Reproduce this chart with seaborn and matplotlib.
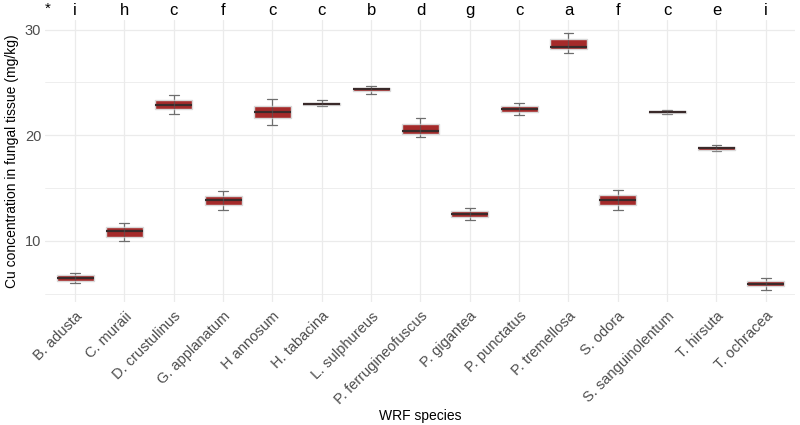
import numpy as np
import pandas as pd
import matplotlib
matplotlib.use("Agg")
import matplotlib.pyplot as plt
import seaborn as sns

species = ["B. adusta", "C. muraii", "D. crustulinus", "G. applanatum", "H annosum",
           "H. tabacina", "L. sulphureus", "P. ferrugineofuscus", "P. gigantea",
           "P. punctatus", "P. tremellosa", "S. odora", "S. sanguinolentum",
           "T. hirsuta", "T. ochracea"]
letters = ["i", "h", "c", "f", "c", "c", "b", "d", "g", "c", "a", "f", "c", "e", "i"]
# five-number summaries: min, Q1, median, Q3, max
lo  = [6.0, 10.0, 22.0, 12.95, 21.0, 22.75, 23.95, 19.8, 12.0, 21.95, 27.8, 12.95, 22.0, 18.5, 5.4]
q1  = [6.2, 10.4, 22.45, 13.4, 21.6, 22.85, 24.2, 20.15, 12.25, 22.25, 28.15, 13.4, 22.08, 18.63, 5.7]
med = [6.5, 10.9, 22.85, 13.85, 22.2, 23.0, 24.35, 20.4, 12.55, 22.5, 28.35, 13.9, 22.17, 18.76, 5.95]
q3  = [6.8, 11.3, 23.3, 14.3, 22.8, 23.1, 24.5, 21.1, 12.85, 22.8, 29.1, 14.35, 22.26, 18.9, 6.25]
hi  = [7.0, 11.7, 23.8, 14.7, 23.4, 23.3, 24.7, 21.65, 13.1, 23.1, 29.7, 14.8, 22.35, 19.05, 6.5]

rows = []
for i, s in enumerate(species):
    for v in (lo[i], q1[i], med[i], q3[i], hi[i]):
        rows.append({"species": s, "cu": v})
df = pd.DataFrame(rows)

sns.set_theme(style="whitegrid")
plt.rcParams['font.family'] = ['Liberation Sans', 'DejaVu Sans']

fig = plt.figure(figsize=(8, 4.25), dpi=100)
ax = fig.add_axes([0.0568, 0.289, 0.9375, 0.6635])

grid_c = "#EBEBEB"
sns.boxplot(data=df, x="species", y="cu", order=species, whis=np.inf, width=0.75,
            color="#A52A2A", saturation=1,
            boxprops=dict(facecolor="#A52A2A", edgecolor="#D9D9D9", linewidth=1.0, zorder=3),
            medianprops=dict(color="#3A2A2A", linewidth=1.6, zorder=4),
            whiskerprops=dict(color="#6E6E6E", linewidth=0.9, zorder=2),
            capprops=dict(color="#6E6E6E", linewidth=0.9, zorder=2),
            capwidths=0.2, showfliers=False, ax=ax)
# error-bar line continues through the box
ax.vlines(np.arange(len(species)), q1, q3, color="#555555", linewidth=0.9, alpha=0.6, zorder=5)

ax.set_xlim(-0.6, len(species) - 0.4)
ax.set_ylim(4.2, 30.9)
ax.set_yticks([10, 20, 30])
ax.set_yticks([5, 15, 25], minor=True)
ax.grid(True, which="major", color=grid_c, linewidth=0.9)
ax.grid(True, which="minor", axis="y", color=grid_c, linewidth=0.6)
ax.set_axisbelow(True)
for sp in ax.spines.values():
    sp.set_visible(False)
ax.tick_params(axis="both", which="both", length=0, colors="#4D4D4D", labelsize=10.5)
ax.tick_params(axis="y", pad=3)
plt.setp(ax.get_xticklabels(), rotation=45, ha="right", rotation_mode="anchor")
ax.tick_params(axis="x", pad=5)

ax.set_xlabel("WRF species", fontsize=10, color="black")
ax.xaxis.set_label_coords(0.5, -0.404)
ax.xaxis.label.set_va("center")
ax.set_ylabel("Cu concentration in fungal tissue (mg/kg)", fontsize=10, color="black")
ax.yaxis.set_label_coords(-0.044, 0.5)
ax.yaxis.label.set_va("center")

for i, l in enumerate(letters):
    ax.text(i, 31.85, l, ha="center", va="center", fontsize=12, color="black", clip_on=False)
ax.text(-0.55, 32.0, "*", ha="center", va="center", fontsize=11, color="black", clip_on=False)

fig.savefig("out.png", dpi=100)
